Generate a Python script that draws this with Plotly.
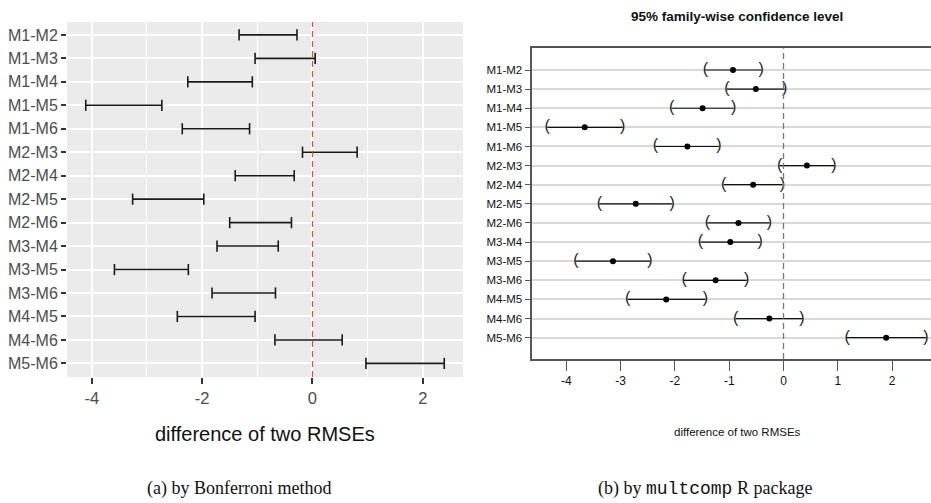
import plotly.graph_objects as go

# ---------------- data ----------------
pairs = ["M1-M2", "M1-M3", "M1-M4", "M1-M5", "M1-M6", "M2-M3", "M2-M4", "M2-M5",
         "M2-M6", "M3-M4", "M3-M5", "M3-M6", "M4-M5", "M4-M6", "M5-M6"]

# (a) Bonferroni intervals
bonf_lo = [-1.33, -1.04, -2.26, -4.11, -2.36, -0.18, -1.40, -3.26,
           -1.50, -1.73, -3.59, -1.82, -2.45, -0.68, 0.97]
bonf_hi = [-0.28, 0.05, -1.09, -2.73, -1.14, 0.81, -0.33, -1.97,
           -0.38, -0.62, -2.25, -0.67, -1.04, 0.54, 2.39]

# (b) multcomp simultaneous intervals
mc_est = [-0.93, -0.51, -1.49, -3.66, -1.77, 0.43, -0.56, -2.72,
          -0.83, -0.98, -3.14, -1.25, -2.16, -0.26, 1.89]
mc_lo = [-1.44, -1.04, -2.06, -4.35, -2.36, -0.07, -1.10, -3.39,
         -1.40, -1.53, -3.82, -1.83, -2.87, -0.88, 1.17]
mc_hi = [-0.41, 0.02, -0.92, -2.96, -1.19, 0.93, -0.02, -2.05,
         -0.26, -0.43, -2.46, -0.68, -1.44, 0.34, 2.62]

left_xticks = [-4, -2, 0, 2]
left_xlabels = ["-4", "-2", "0", "2"]
right_xticks = [-4, -3, -2, -1, 0, 1, 2]
right_xlabels = ["-4", "-3", "-2", "-1", "0", "1", "2"]

W, H = 931, 503
SANS = "Liberation Sans Narrow, Arial Narrow, Liberation Sans, Arial, sans-serif"
SERIF = "Liberation Serif, Times New Roman, serif"

fig = go.Figure()

# ---------------- left panel (ggplot style) ----------------
seg_x, seg_y = [], []
for p, lo, hi in zip(pairs, bonf_lo, bonf_hi):
    seg_x += [lo, hi, None]
    seg_y += [p, p, None]
fig.add_trace(go.Scatter(x=seg_x, y=seg_y, mode="lines",
                         line=dict(color="#1a1a1a", width=1.6),
                         xaxis="x", yaxis="y", showlegend=False, hoverinfo="skip"))
fig.add_trace(go.Scatter(x=bonf_lo + bonf_hi, y=pairs + pairs, mode="markers",
                         marker=dict(symbol="line-ns", size=8,
                                     line=dict(color="#1a1a1a", width=1.6)),
                         xaxis="x", yaxis="y", showlegend=False, hoverinfo="skip"))

# ---------------- right panel (base R style) ----------------
rows = list(range(len(pairs)))
seg_x2, seg_y2 = [], []
for i, (lo, hi) in enumerate(zip(mc_lo, mc_hi)):
    seg_x2 += [lo, hi, None]
    seg_y2 += [i, i, None]
fig.add_trace(go.Scatter(x=seg_x2, y=seg_y2, mode="lines",
                         line=dict(color="#111111", width=1.2),
                         xaxis="x2", yaxis="y2", showlegend=False, hoverinfo="skip"))
fig.add_trace(go.Scatter(x=mc_lo, y=rows, mode="text",
                         text=["("] * len(pairs), textposition="middle center",
                         textfont=dict(family=SANS, size=16, color="#222222"),
                         xaxis="x2", yaxis="y2", showlegend=False, hoverinfo="skip"))
fig.add_trace(go.Scatter(x=mc_hi, y=rows, mode="text",
                         text=[")"] * len(pairs), textposition="middle center",
                         textfont=dict(family=SANS, size=16, color="#222222"),
                         xaxis="x2", yaxis="y2", showlegend=False, hoverinfo="skip"))
fig.add_trace(go.Scatter(x=mc_est, y=rows, mode="markers",
                         marker=dict(color="black", size=6),
                         xaxis="x2", yaxis="y2", showlegend=False, hoverinfo="skip"))

shapes = [
    dict(type="rect", xref="paper", yref="paper", layer="below",
         x0=67 / W, x1=463 / W, y0=1 - 377 / H, y1=1 - 22 / H,
         fillcolor="#EBEBEB", line=dict(width=0)),
    dict(type="line", xref="x", yref="paper", x0=0, x1=0,
         y0=1 - 377 / H, y1=1 - 22 / H,
         line=dict(color="#FF3030", width=1, dash="6px,4px")),
    dict(type="line", xref="x2", yref="paper", x0=0, x1=0,
         y0=1 - 359 / H, y1=1 - 48.3 / H,
         line=dict(color="#777777", width=1.3, dash="6px,4px")),
]

fig.update_layout(
    width=W, height=H,
    margin=dict(l=0, r=0, t=0, b=0),
    paper_bgcolor="white",
    plot_bgcolor="rgba(0,0,0,0)",
    shapes=shapes,
    xaxis=dict(domain=[67 / W, 463 / W], range=[-4.45, 2.73],
               tickvals=left_xticks, ticktext=left_xlabels,
               ticks="outside", ticklen=6, tickwidth=2,
               tickcolor="#333333", showgrid=True, gridcolor="white", gridwidth=2,
               minor=dict(dtick=1, tick0=0, showgrid=True, gridcolor="white",
                          gridwidth=1),
               zeroline=False, showline=False,
               tickfont=dict(family=SANS, size=16.5, color="#4D4D4D"),
               anchor="y"),
    yaxis=dict(domain=[1 - 377 / H, 1 - 22 / H], type="category",
               categoryarray=pairs, range=[14.58, -0.55],
               ticks="outside", ticklen=5, tickwidth=2, tickcolor="#333333",
               showgrid=True, gridcolor="white", gridwidth=2,
               zeroline=False, showline=False,
               tickfont=dict(family=SANS, size=16, color="#4D4D4D"),
               anchor="x"),
    xaxis2=dict(domain=[532.3 / W, 1.0], range=[-4.625, 2.715],
                tickvals=right_xticks, ticktext=right_xlabels,
                ticks="outside", ticklen=10, tickwidth=1,
                tickcolor="#555555", showgrid=False, zeroline=False,
                showline=True, linecolor="#555555", linewidth=1.5, mirror=True,
                tickfont=dict(family=SANS, size=12, color="#111111"),
                anchor="y2"),
    yaxis2=dict(domain=[1 - 359 / H, 1 - 48.3 / H], range=[15.115, -1.135],
                tickvals=rows, ticktext=pairs,
                ticks="outside", ticklen=6, tickwidth=1, tickcolor="#555555",
                showgrid=True, gridcolor="#D9D9D9", gridwidth=1.5,
                zeroline=False, showline=True, linecolor="#555555", linewidth=1.5,
                tickfont=dict(family=SANS, size=11.5, color="#111111"),
                anchor="x2"),
    annotations=[
        dict(text="difference of two RMSEs", xref="paper", yref="paper",
             x=265 / W, y=1 - 434 / H, showarrow=False, xanchor="center",
             yanchor="middle", font=dict(family=SANS, size=20, color="#111111")),
        dict(text="95% family-wise confidence level", xref="paper", yref="paper",
             x=736.7 / W, y=1 - 17 / H, showarrow=False, xanchor="center",
             yanchor="middle",
             font=dict(family=SANS, size=13.5, color="#111111", weight="bold")),
        dict(text="difference of two RMSEs", xref="paper", yref="paper",
             x=737 / W, y=1 - 431.7 / H, showarrow=False, xanchor="center",
             yanchor="middle", font=dict(family=SANS, size=11.5, color="#111111")),
        dict(text="(a) by Bonferroni method", xref="paper", yref="paper",
             x=239 / W, y=1 - 488 / H, showarrow=False, xanchor="center",
             yanchor="middle", font=dict(family=SERIF, size=18, color="#111111")),
        dict(text="(b) by <span style='font-family:Liberation Mono, Courier New, monospace'>multcomp</span> R package",
             xref="paper", yref="paper",
             x=705 / W, y=1 - 488 / H, showarrow=False, xanchor="center",
             yanchor="middle", font=dict(family=SERIF, size=18, color="#111111")),
    ],
)

fig.write_html("out.html")
